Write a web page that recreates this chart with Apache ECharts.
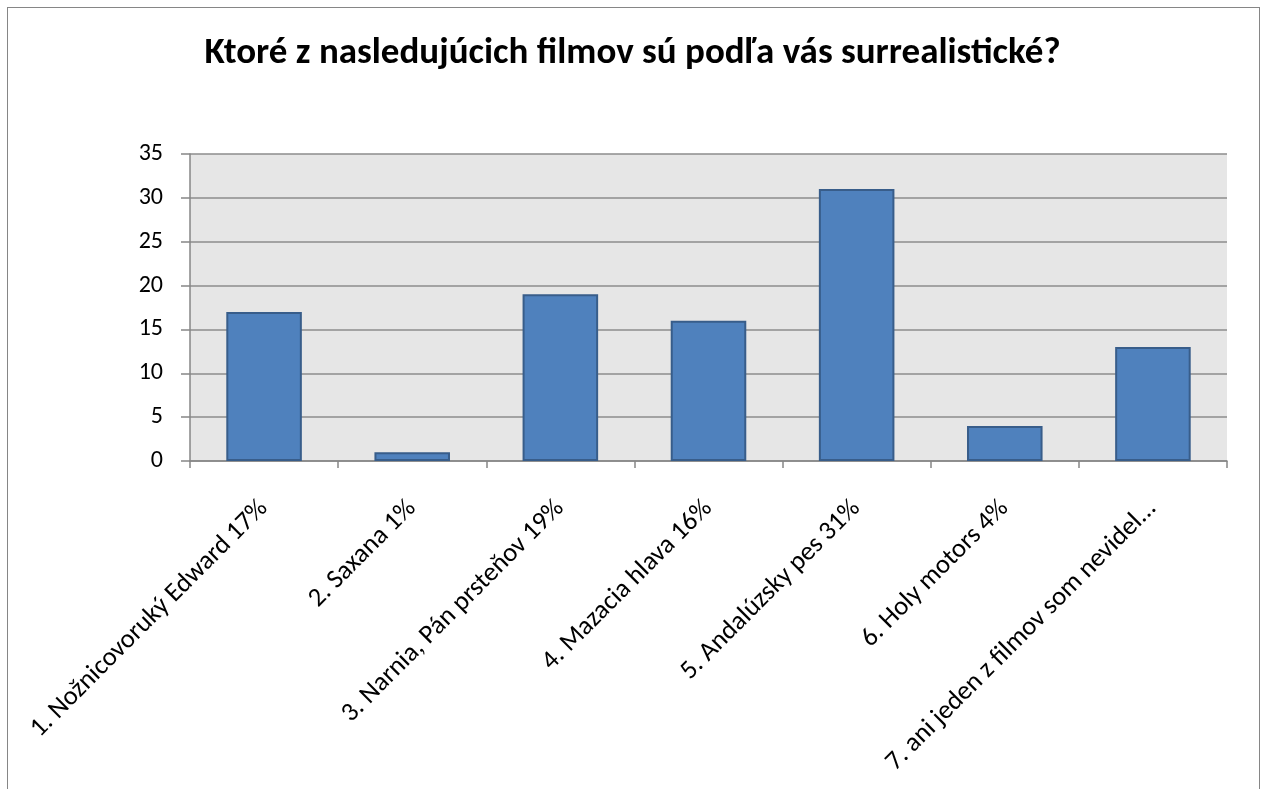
<!DOCTYPE html>
<html>
<head>
<meta charset="utf-8">
<script src="https://cdn.jsdelivr.net/npm/echarts@6/dist/echarts.min.js"></script>
<style>
  html, body { margin: 0; padding: 0; background: #fff; }
  #frame { position: absolute; left: 7px; top: 7px; width: 1253px; height: 800px; border: 1.5px solid #868686; box-sizing: border-box; }
  #chart { width: 1265px; height: 789px; }
</style>
</head>
<body>
<div id="frame"></div>
<div id="chart"></div>
<script>
// kategórie a hodnoty
var categories = [
    '1. Nožnicovoruký Edward 17%',
    '2. Saxana 1%',
    '3. Narnia, Pán prsteňov 19%',
    '4. Mazacia hlava 16%',
    '5. Andalúzsky pes 31%',
    '6. Holy motors 4%',
    '7. ani jeden z filmov som nevidel...'
];
var values = [17, 1, 19, 16, 31, 4, 13];
var yTicks = { min: 0, max: 35, interval: 5 };

var myChart = echarts.init(document.getElementById('chart'));
var font = 'Carlito, "Open Sans", "Noto Sans", sans-serif';

var option = {
    backgroundColor: 'transparent',
    animation: false,
    title: {
        text: 'Ktoré z nasledujúcich filmov sú podľa vás surrealistické?',
        left: 'center',
        top: 30,
        textStyle: {
            fontFamily: font,
            fontSize: 37,
            fontWeight: 'bold',
            color: '#000'
        }
    },
    grid: {
        left: 190,
        right: 38,
        top: 154,
        bottom: 328,
        show: true,
        backgroundColor: '#e6e6e6',
        borderWidth: 0
    },
    xAxis: {
        type: 'category',
        data: categories,
        axisLine: { lineStyle: { color: '#868686', width: 1.5 } },
        axisTick: { show: true, length: 7, lineStyle: { color: '#868686', width: 1.5 } },
        axisLabel: {
            rotate: 45,
            margin: 24,
            interval: 0,
            align: 'right',
            verticalAlign: 'top',
            padding: [0, 14, 0, 0],
            fontFamily: font,
            fontSize: 26.5,
            color: '#000'
        }
    },
    yAxis: {
        type: 'value',
        min: yTicks.min,
        max: yTicks.max,
        interval: yTicks.interval,
        axisLine: { show: true, lineStyle: { color: '#868686', width: 1.5 } },
        axisTick: { show: true, length: 9, lineStyle: { color: '#868686', width: 1.5 } },
        splitLine: { lineStyle: { color: '#8c8c8c', width: 1.5 } },
        axisLabel: {
            margin: 27,
            fontFamily: font,
            fontSize: 24,
            color: '#000'
        }
    },
    series: [{
        type: 'bar',
        data: values,
        barWidth: '51%',
        itemStyle: {
            color: '#4f81bd',
            borderColor: '#385d8a',
            borderWidth: 2
        }
    }]
};
myChart.setOption(option);
window.addEventListener('resize', function () {
    myChart.resize();
});
</script>
</body>
</html>
